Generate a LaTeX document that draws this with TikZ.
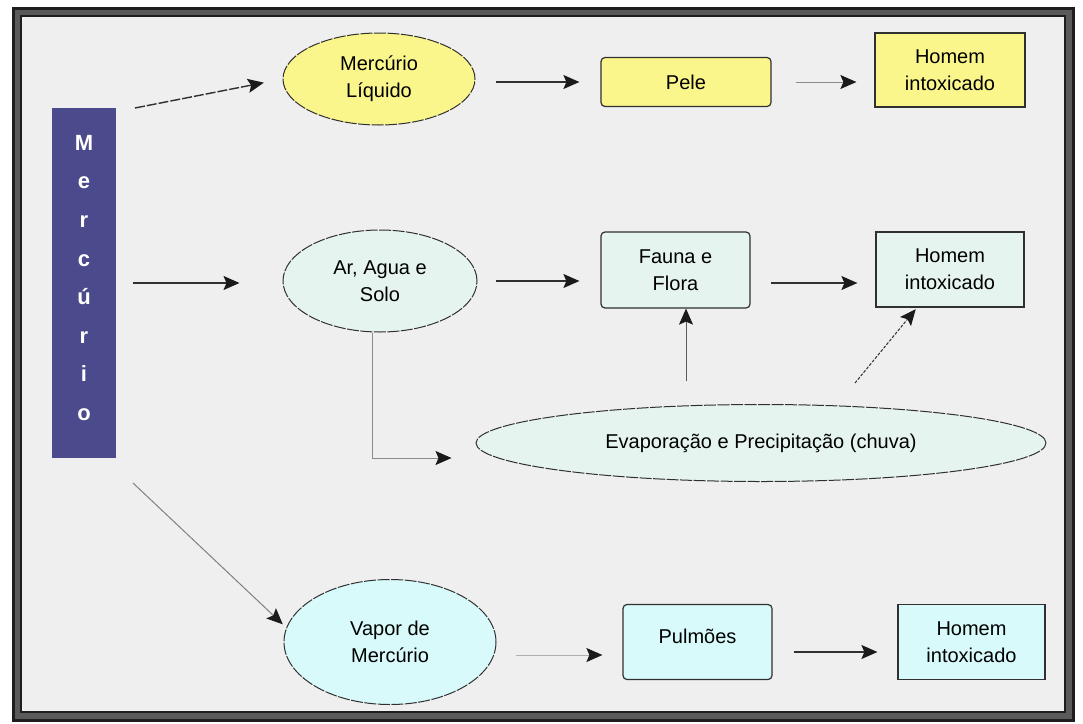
\documentclass[tikz,border=0pt]{standalone}
\usepackage{fontspec}
\setmainfont{Liberation Sans}
\usetikzlibrary{shapes.geometric,arrows.meta}
\definecolor{bg}{HTML}{EFEFEF}
\definecolor{framec}{HTML}{1E1E1E}
\definecolor{framemid}{HTML}{5A5A5A}
\definecolor{merc}{HTML}{4B4A8C}
\definecolor{yel}{HTML}{FAF68C}
\definecolor{grn}{HTML}{E6F4EF}
\definecolor{cyn}{HTML}{D8FAFB}
\definecolor{edgec}{HTML}{303030}
\definecolor{lightc}{HTML}{8C8C8C}
\definecolor{tipc}{HTML}{1A1A1A}
\begin{document}
\begin{tikzpicture}[x=1pt,y=-1pt,
  lbl/.style={font=\fontsize{20}{27}\selectfont, align=center, text=black},
  ell/.style={lbl, ellipse, draw=edgec, line width=1pt, inner sep=0pt, dash pattern=on 12pt off 1.5pt},
  box/.style={lbl, rectangle, draw=edgec, line width=1.2pt, inner sep=0pt},
  rbox/.style={box, rounded corners=4pt},
  arr/.style={-{Stealth[length=16pt,width=14pt,inset=3pt,color=tipc]}, line width=1.4pt, draw=edgec},
  larr/.style={arr, draw=lightc, line width=1pt},
  vert/.style={text=white, font=\bfseries\fontsize{22}{38.6}\selectfont, align=center, inner sep=0pt}]
\useasboundingbox (0,0) rectangle (1083,723);
\fill[white] (0,0) rectangle (1083,723);
\fill[bg] (17,12) rectangle (1069,716);
\draw[framemid, line width=10pt] (17,12) rectangle (1069,716);
\draw[framec, line width=3pt] (13,8) rectangle (1073,720);
\draw[framec, line width=2.5pt] (21,16) rectangle (1065,712);

% Mercurio column
\node[fill=merc, minimum width=64pt, minimum height=350pt, inner sep=0pt] (mbox) at (84,283) {};
\node[vert] (mtext) at (84,278) {M\\e\\r\\c\\ú\\r\\i\\o};

% row 1
\node[ell, fill=yel, minimum width=192pt, minimum height=92pt] (liq) at (379,79) {Mercúrio\\Líquido};
\node[rbox, fill=yel, minimum width=170pt, minimum height=49pt] (pele) at (686,82) {Pele};
\node[box, fill=yel, minimum width=150pt, minimum height=74pt] (hom1) at (950,70) {Homem\\intoxicado};

% row 2
\node[ell, fill=grn, minimum width=194pt, minimum height=102pt] (ar) at (380,281) {Ar, Agua e\\Solo};
\node[rbox, fill=grn, minimum width=149pt, minimum height=76pt] (fauna) at (675.5,270) {Fauna e\\Flora};
\node[box, fill=grn, minimum width=148pt, minimum height=75pt] (hom2) at (950,269.5) {Homem\\intoxicado};
\node[ell, fill=grn, minimum width=570pt, minimum height=77pt] (evap) at (761,443) {Evaporação e Precipitação (chuva)};

% row 3
\node[ell, fill=cyn, minimum width=212pt, minimum height=125pt] (vap) at (390,642) {Vapor de\\Mercúrio};
\node[rbox, fill=cyn, minimum width=149pt, minimum height=75pt, text depth=12pt] (pulm) at (697.5,642) {Pulmões};
\node[box, fill=cyn, minimum width=147pt, minimum height=75pt] (hom3) at (971.5,642) {Homem\\intoxicado};

% free ends
\coordinate (s1) at (135,108);
\coordinate (s2) at (133,283);
\coordinate (s3) at (133,483);
\coordinate (e1) at (686,381);
\coordinate (e2) at (855,383);

% connectors
\draw[arr, dash pattern=on 10pt off 2pt, shorten >=19pt] (s1) -- (liq.west);
\draw[arr, shorten <=20pt, shorten >=21pt] (liq.east |- pele.west) -- (pele.west);
\draw[larr, shorten <=24pt, shorten >=18pt] (pele.east) -- (pele.east -| hom1.west);

\draw[arr, shorten >=43pt] (s2) -- (s2 -| ar.west);
\draw[arr, shorten <=18pt, shorten >=21pt] (ar.east) -- (ar.east -| fauna.west);
\draw[arr, shorten <=20pt, shorten >=18pt] ([yshift=-13pt]fauna.east) -- ([yshift=-13pt]fauna.east -| hom2.west);
\draw[larr, line width=1pt, draw=edgec!80] (e1) -- (e1 |- fauna.south);
\draw[arr, line width=1pt, dash pattern=on 3pt off 1.5pt, shorten >=2pt] (e2) -- ([xshift=-33pt]hom2.south);
\draw[larr, shorten >=24pt] ([xshift=-8pt]ar.south) |- ([yshift=-15pt]evap.west);

\draw[larr, draw=gray, shorten >=1pt] (s3) -- ([yshift=17pt]vap.west);
\draw[larr, draw=lightc!70, shorten <=19pt, shorten >=20pt] ([yshift=-13pt]vap.east) -- ([yshift=-13pt]vap.east -| pulm.west);
\draw[arr, shorten <=21pt, shorten >=20pt] ([yshift=-10pt]pulm.east) -- ([yshift=-10pt]pulm.east -| hom3.west);
\end{tikzpicture}
\end{document}
